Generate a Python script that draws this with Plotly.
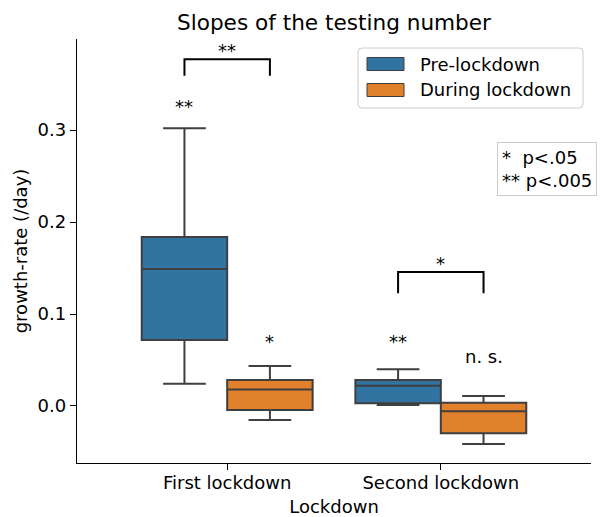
import plotly.graph_objects as go

# ---------------- data ----------------
CATEGORIES = ["First lockdown", "Second lockdown"]
SERIES = ["Pre-lockdown", "During lockdown"]

pre_lower = [0.0243, 0.0010]
pre_q1 = [0.0717, 0.0029]
pre_median = [0.1490, 0.0220]
pre_q3 = [0.1837, 0.0283]
pre_upper = [0.3020, 0.0400]

during_lower = [-0.0152, -0.0413]
during_q1 = [-0.0043, -0.0297]
during_median = [0.0180, -0.0058]
during_q3 = [0.0283, 0.0036]
during_upper = [0.0435, 0.0109]

# significance vs zero, per box
pre_sig = ["**", "**"]
pre_sig_y = [0.3255, 0.0699]
during_sig = ["*", "n. s."]
during_sig_y = [0.0699, 0.0540]

# pre vs during comparison brackets
bracket_label = ["**", "*"]
bracket_top = [0.377, 0.1457]
bracket_foot = [0.359, 0.1225]
bracket_label_y = [0.386, 0.1547]

PVALUE_NOTE = ["*\u00a0 p&lt;.05", "** p&lt;.005"]
TITLE = "Slopes of the testing number"
XLABEL = "Lockdown"
YLABEL = "growth-rate (/day)"
YTICKS = [0.0, 0.1, 0.2, 0.3]

# ---------------- style ----------------
COLORS = ["#3274a1", "#e1812c"]
EDGE = "#3f3f3f"
FONT = "DejaVu Sans"
W, H = 600, 517
L, R, T, B = 77, 9, 39, 54
PW, PH = W - L - R, H - T - B
OFFSET = 0.2  # half of group width per box


def xp(px):
    return (px - L) / PW


def yp(py):
    return (H - B - py) / PH


fig = go.Figure()
stats = [
    (pre_lower, pre_q1, pre_median, pre_q3, pre_upper),
    (during_lower, during_q1, during_median, during_q3, during_upper),
]
for name, color, (lo, q1, med, q3, up) in zip(SERIES, COLORS, stats):
    fig.add_trace(go.Box(
        name=name, x=CATEGORIES, lowerfence=lo, q1=q1, median=med, q3=q3,
        upperfence=up, boxpoints=False, fillcolor=color,
        line=dict(color=EDGE, width=2), whiskerwidth=0.5,
        showlegend=False, hoverinfo="skip",
    ))

shapes = []
annotations = []

# significance labels above boxes
for i in range(len(CATEGORIES)):
    for sign, labels, ys in ((-1, pre_sig, pre_sig_y), (1, during_sig, during_sig_y)):
        annotations.append(dict(
            x=i + sign * OFFSET, y=ys[i], xref="x", yref="y", text=labels[i],
            showarrow=False, xanchor="center", yanchor="middle",
            font=dict(family=FONT, size=18, color="black"),
        ))
    # bracket
    x0, x1 = i - OFFSET, i + OFFSET
    shapes.append(dict(
        type="path", xref="x", yref="y",
        path=f"M{x0},{bracket_foot[i]} L{x0},{bracket_top[i]} L{x1},{bracket_top[i]} L{x1},{bracket_foot[i]}",
        line=dict(color="black", width=2),
    ))
    annotations.append(dict(
        x=i, y=bracket_label_y[i], xref="x", yref="y", text=bracket_label[i],
        showarrow=False, xanchor="center", yanchor="middle",
        font=dict(family=FONT, size=18, color="black"),
    ))

# custom legend (matplotlib style)
lx0, lx1, ly0, ly1, rr = 358, 583, 48, 108, 4
path = (
    f"M{xp(lx0 + rr)},{yp(ly0)} L{xp(lx1 - rr)},{yp(ly0)} Q{xp(lx1)},{yp(ly0)} {xp(lx1)},{yp(ly0 + rr)} "
    f"L{xp(lx1)},{yp(ly1 - rr)} Q{xp(lx1)},{yp(ly1)} {xp(lx1 - rr)},{yp(ly1)} "
    f"L{xp(lx0 + rr)},{yp(ly1)} Q{xp(lx0)},{yp(ly1)} {xp(lx0)},{yp(ly1 - rr)} "
    f"L{xp(lx0)},{yp(ly0 + rr)} Q{xp(lx0)},{yp(ly0)} {xp(lx0 + rr)},{yp(ly0)} Z"
)
shapes.append(dict(type="path", xref="paper", yref="paper", path=path,
                   line=dict(color="#cccccc", width=1), fillcolor="rgba(255,255,255,0.8)"))
for k, (name, color) in enumerate(zip(SERIES, COLORS)):
    cy = 64 + 26 * k
    shapes.append(dict(type="rect", xref="paper", yref="paper",
                       x0=xp(367), x1=xp(404), y0=yp(cy + 6.5), y1=yp(cy - 6.5),
                       fillcolor=color, line=dict(color=EDGE, width=1)))
    annotations.append(dict(x=xp(418), y=yp(cy), xref="paper", yref="paper", text=name,
                            showarrow=False, xanchor="left", yanchor="middle",
                            font=dict(family=FONT, size=18, color="black")))

# p-value note box
annotations.append(dict(
    x=xp(497), y=yp(169.5), xref="paper", yref="paper", text="<br>".join(PVALUE_NOTE),
    showarrow=False, xanchor="left", yanchor="middle", align="left",
    font=dict(family=FONT, size=18, color="black"),
    bordercolor="#cccccc", borderwidth=1, borderpad=4, bgcolor="white",
))

fig.update_layout(
    width=W, height=H,
    margin=dict(l=L, r=R, t=T, b=B, autoexpand=False),
    paper_bgcolor="white", plot_bgcolor="white",
    boxmode="group", boxgap=0.2, boxgroupgap=0,
    font=dict(family=FONT, size=18, color="black"),
    title=dict(text=TITLE, x=(L + PW / 2) / W, xanchor="center",
               y=1 - 22.4 / H, yanchor="middle", yref="container",
               font=dict(family=FONT, size=21.6, color="black")),
    shapes=shapes, annotations=annotations, showlegend=False,
    xaxis=dict(type="category", range=[-0.703, 1.703], showline=True, linecolor="black",
               linewidth=1.4, ticks="outside", ticklen=6, tickwidth=1.4, tickcolor="black",
               showgrid=False, zeroline=False, automargin=False, ticklabelstandoff=-3,
               title=dict(text=XLABEL, standoff=9, font=dict(family=FONT, size=18))),
    yaxis=dict(range=[-0.062, 0.399], showline=True, linecolor="black", linewidth=1.4,
               ticks="outside", ticklen=6, tickwidth=1.4, tickcolor="black",
               tickvals=YTICKS, tickformat=".1f", showgrid=False, zeroline=False,
               automargin=False,
               title=dict(text=YLABEL, standoff=5, font=dict(family=FONT, size=18))),
)

fig.write_html("out.html")
